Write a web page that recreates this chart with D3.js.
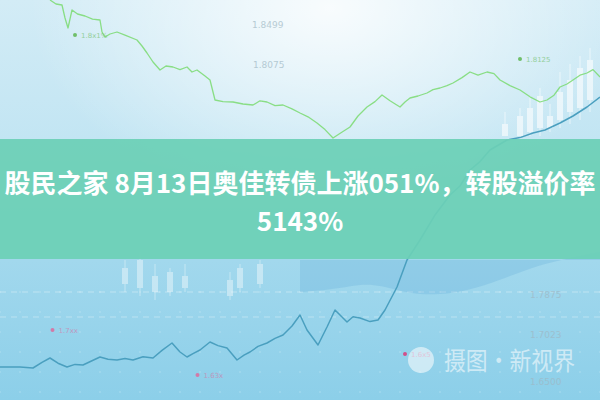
<!DOCTYPE html>
<html><head><meta charset="utf-8">
<script src="https://cdn.jsdelivr.net/npm/d3@7/dist/d3.min.js"></script>
<style>html,body{margin:0;padding:0;background:#fff}svg{display:block}</style>
</head><body>
<script>
// ---- data (time index 0..120, value 0..100) ----
const greenT = [10,11.2,12.4,13,13.6,14.4,15.5,17,18.5,20,20.4,21,22,23.4,25,27.4,28.4,29.4,30.6,32,33.2,34.6,36,37.4,38.4,39.4,41,42,43,44.6,46.6,48.6,50.6,52,53.4,55,56.6,58.4,60,61.6,63.4,65,66.6,68.2,70,71.6,73.4,75,76.4,78,80,81,82,83.6,85.4,86.6,88,89.4,90.6,92.4,94,95.6,97.4,98.8,100,102,104,106,108,109.4,110.8,112,113.4,114.6,116,117.4,118.6,120];
const greenV = [100,99,98.75,95.5,93,97.5,96.5,96,95.2,95,92,90.75,91.5,92,91.2,90,88.5,86.75,84.5,82.5,83.5,83.25,82.6,83.25,82,82.5,81,80,75,74.6,74.5,74,73.75,74.8,74.5,73.6,73.75,72.8,71.75,70.8,69.25,67.6,65.5,66.8,68.25,71,73.25,74.6,76.25,74.8,73.25,74.5,75.5,76,76.75,77.6,78,78.6,79.25,80.6,82,81.2,82,81.6,80,78.6,77.5,75.8,74.5,75,76.2,78.25,79,80,81.2,81.75,82.6,80.75];
const blueT = [0,4,6.6,8.4,10,11.6,13.4,15,16.6,18.4,20,21.6,23.4,25,26.6,28.6,30.6,32.4,34.4,36,37.4,38.6,40,42,43.6,45.4,47.4,48.8,50,51.6,53.4,55,56.6,58.4,60,61.4,63.6,65.4,67,69.4,70.6,72,74,75.6,77,79.4,81.4,84,87,90,92,94,96,98,101.4,104,106.6,109,112,114.6,117.4,120];
const blueV = [8.25,8.25,8,9.4,10.5,9.2,8.25,8.9,8.75,9.8,10.75,10.2,10,10.4,10,10.8,10.5,12.4,14.25,12,10.75,11.6,12.5,14.5,13.6,13,10,11.2,12,13.4,14.25,15.4,16.25,18.5,21.25,17.5,13.75,18.25,22.5,19.5,20.8,20.5,19.6,20,22.5,28.25,35,40,46.25,51.25,53.5,57.5,59.6,62.5,65,65.6,66.75,67.5,69.25,71,73.25,75.75];
// candlesticks: [t, low, high, bodyLow, bodyHigh]
const candlesR = [[101,66,72,66,69],[104,65,73,66,71],[106,66,76,67,73],[108,66,78,68,76],[110,67,74,68,71],[112,68,82,70,77],[114,69,84,72,80],[116,70,86,73,83],[118,72,88,75,85]];
const candlesL = [[25,27,35,29,33],[28,26,37,28,35],[31,25,34,27,31],[34,26,33,27,32],[37,27,34,28,31],[46,25,32,26,30],[48,27,34,28,33],[52,28,35,29,34]];
const areaT = [60,66,72,76,82,88,94,100,106,112,120];
const areaTop = [35,35,35,35,35,35,35,35,35,35,35];
const areaLow = [27,27.5,29,28.75,26.5,26.25,27.5,30,33,35,37];
const priceLabels = ["1.8499","1.8075","1.7875","1.7023","1.6500"];
const priceLabelT = [50.4,50.6,106,106,106];
const priceLabelV = [93,83,25.5,15.5,3.75];
const markLabels = ["1.8x1%","1.8125","1.7xx","1.63x","1.6x5"];
const markT = [15,104,10.5,39.5,81];
const markV = [90.5,84.5,16.75,5.5,10.75];
const markColor = ["#6fbf6a","#6fbf6a","#d27aa8","#d27aa8","#d2508a"];
const gridLevels = [27,20.75];
const titleLines = ["股民之家 8月13日奥佳转债上涨051%，转股溢价率","5143%"];
const watermark = "摄图·新视界";

const W=600,H=400;
const x=d3.scaleLinear().domain([0,120]).range([0,W]);
const y=d3.scaleLinear().domain([0,100]).range([H,0]);

const svg=d3.select("body").append("svg").attr("width",W).attr("height",H);
const defs=svg.append("defs");
const lg=defs.append("linearGradient").attr("id","bg").attr("x1",0).attr("y1",0).attr("x2",0).attr("y2",1);
lg.append("stop").attr("offset","0").attr("stop-color","#d3ecf6");
lg.append("stop").attr("offset","0.35").attr("stop-color","#c2e5f3");
lg.append("stop").attr("offset","0.65").attr("stop-color","#a2d8ed");
lg.append("stop").attr("offset","1").attr("stop-color","#8ccfe9");
const rg=defs.append("radialGradient").attr("id","glow").attr("cx","0.55").attr("cy","0.02").attr("r","0.5");
rg.append("stop").attr("offset","0").attr("stop-color","#ffffff").attr("stop-opacity",0.85);
rg.append("stop").attr("offset","1").attr("stop-color","#ffffff").attr("stop-opacity",0);
svg.append("rect").attr("width",W).attr("height",H).attr("fill","url(#bg)");
svg.append("rect").attr("width",W).attr("height",H).attr("fill","url(#glow)");

// dotted grid
const dotG=svg.append("g").attr("opacity",0.3);
d3.range(0,121,4).forEach(t=>{d3.range(2,30,5).forEach(v=>{dotG.append("circle").attr("cx",x(t)).attr("cy",y(v)).attr("r",0.8).attr("fill","#ffffff");});});
// dashed grid lines
svg.append("g").selectAll("line").data(gridLevels).join("line")
 .attr("x1",x(0)).attr("x2",x(120)).attr("y1",d=>y(d)).attr("y2",d=>y(d))
 .attr("stroke","#ffffff").attr("stroke-opacity",0.35).attr("stroke-dasharray","6,5");

// darker cloud area
const areaGen=d3.area().x((d,i)=>x(areaT[i])).y0((d,i)=>y(areaLow[i])).y1((d,i)=>y(areaTop[i])).curve(d3.curveBasis);
svg.append("path").attr("d",areaGen(areaT)).attr("fill","#5aa6d6").attr("opacity",0.25);

// candles
function drawCandles(data,op){
  const g=svg.append("g").attr("opacity",op);
  g.selectAll("line").data(data).join("line").attr("x1",d=>x(d[0])).attr("x2",d=>x(d[0])).attr("y1",d=>y(d[1])).attr("y2",d=>y(d[2])).attr("stroke","#ffffff").attr("stroke-width",1);
  g.selectAll("rect").data(data).join("rect").attr("x",d=>x(d[0])-3).attr("width",6).attr("y",d=>y(d[4])).attr("height",d=>y(d[3])-y(d[4])).attr("fill","#ffffff");
}
drawCandles(candlesR,0.6);
drawCandles(candlesL,0.4);

// lines
const lineG=d3.line().x((d,i)=>x(greenT[i])).y(d=>y(d));
svg.append("path").attr("d",lineG(greenV)).attr("fill","none").attr("stroke","#7fdc78").attr("stroke-width",1.3).attr("stroke-opacity",0.9).attr("stroke-linejoin","round");
const lineB=d3.line().x((d,i)=>x(blueT[i])).y(d=>y(d));
svg.append("path").attr("d",lineB(blueV)).attr("fill","none").attr("stroke","#4a9fbf").attr("stroke-width",1.5).attr("stroke-linejoin","round");

// price labels
svg.append("g").selectAll("text").data(priceLabels).join("text")
 .attr("x",(d,i)=>x(priceLabelT[i])).attr("y",(d,i)=>y(priceLabelV[i])).text(d=>d)
 .attr("font-family","DejaVu Sans, sans-serif").attr("font-size",9).attr("fill","#9fb8c4").attr("opacity",0.7);
// markers
const mg=svg.append("g").selectAll("g").data(markLabels).join("g");
mg.append("circle").attr("cx",(d,i)=>x(markT[i])).attr("cy",(d,i)=>y(markV[i])-3).attr("r",2).attr("fill",(d,i)=>markColor[i]);
mg.append("text").attr("x",(d,i)=>x(markT[i])+6).attr("y",(d,i)=>y(markV[i])).text(d=>d)
 .attr("font-family","DejaVu Sans, sans-serif").attr("font-size",7).attr("fill",(d,i)=>markColor[i]).attr("opacity",0.65);

// band
svg.append("rect").attr("x",0).attr("y",139).attr("width",W).attr("height",120).attr("fill","#6cd0b6").attr("opacity",0.93);

// watermark
const wm=svg.append("g").attr("opacity",0.55);
wm.append("circle").attr("cx",421).attr("cy",360).attr("r",13).attr("fill","#ffffff");
wm.append("text").attr("x",444).attr("y",370).text(watermark).attr("font-family","Noto Sans CJK SC").attr("font-size",25).attr("fill","#ffffff").attr("textLength",131).attr("lengthAdjust","spacingAndGlyphs");

// title
svg.append("g").selectAll("text").data(titleLines).join("text")
 .attr("x",W/2).attr("y",(d,i)=>i===0?193:231).attr("text-anchor","middle")
 .text(d=>d).attr("font-family","Noto Sans CJK SC").attr("font-weight","bold").attr("font-size",26).attr("fill","#ffffff");
</script>
</body></html>
